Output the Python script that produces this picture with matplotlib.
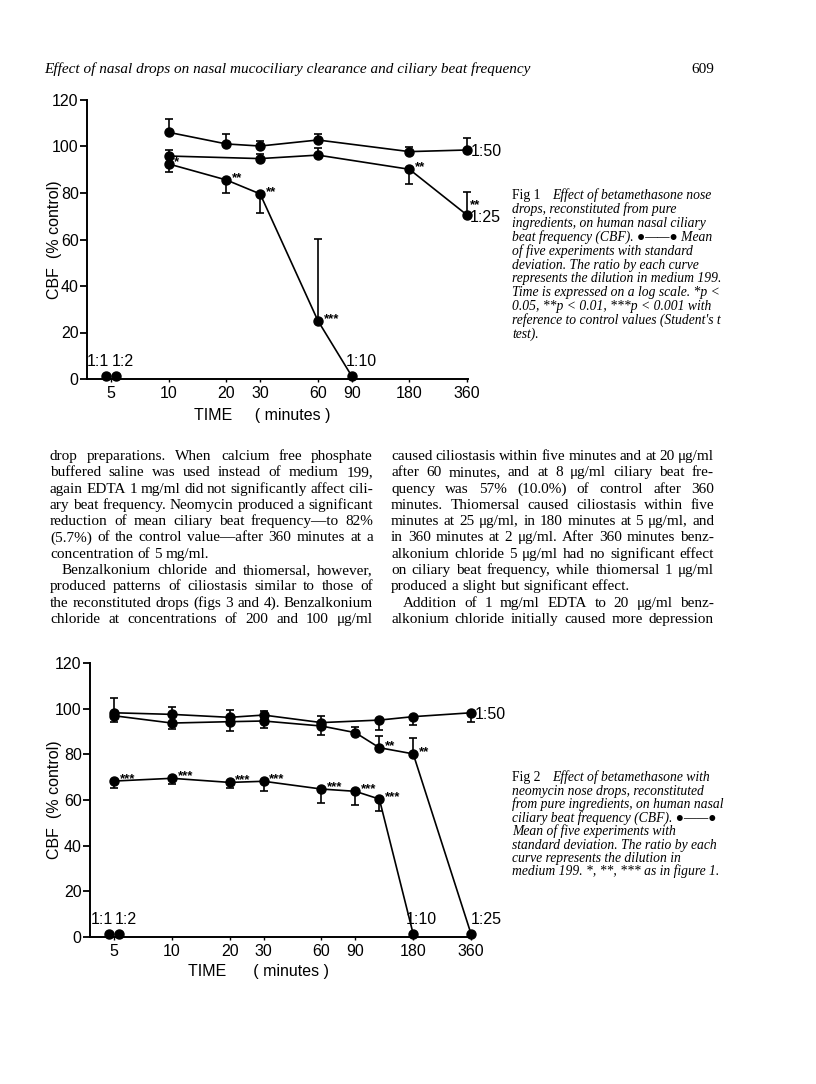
import numpy as np
import matplotlib
matplotlib.use("Agg")
import matplotlib.pyplot as plt
from matplotlib.ticker import FixedLocator, FixedFormatter, NullLocator

W, H = 816, 1084
SANS = ['Liberation Sans', 'DejaVu Sans']
SERIF = ['Liberation Serif', 'DejaVu Serif', 'DejaVu Sans']

# ---- data (time in minutes, CBF in % control)
tick_times = [5, 10, 20, 30, 60, 90, 180, 360]
tick_labels = ['5', '10', '20', '30', '60', '90', '180', '360']

f1_t50 = [10, 20, 30, 60, 180, 360]
f1_y50 = [106.1, 101.1, 100.2, 102.8, 97.8, 98.5]
f1_up50 = [5.6, 4.3, 2.3, 2.4, 2.1, 5.0]
f1_dn50 = [0, 0, 0, 0, 0, 0]

f1_t25 = [10, 30, 60, 180, 360]
f1_y25 = [95.9, 94.8, 96.3, 90.2, 70.5]
f1_up25 = [2.6, 2.0, 2.9, 0, 10.1]
f1_dn25 = [0, 0, 0, 6.5, 0]
f1_s25 = ['', '', '', '**', '']

f1_t10 = [10, 20, 30, 60, 90]
f1_y10 = [92.5, 85.6, 79.6, 25.1, 1.3]
f1_up10 = [0, 0, 0, 35.0, 0]
f1_dn10 = [3.3, 5.7, 8.1, 0, 0]
f1_s10 = ['*', '**', '**', '***', '']

f2_t50 = [5, 10, 20, 30, 60, 120, 180, 360]
f2_y50 = [98.2, 97.5, 96.2, 97.2, 93.9, 95.0, 96.5, 98.2]
f2_up50 = [6.3, 3.4, 3.2, 1.9, 3.0, 0, 0, 0]
f2_dn50 = [0, 0, 0, 0, 0, 4.3, 3.6, 3.9]

f2_t25 = [5, 10, 20, 30, 60, 90, 120, 180, 360]
f2_y25 = [96.9, 93.7, 94.3, 94.6, 92.4, 89.5, 82.9, 80.2, 1.3]
f2_up25 = [0, 0, 0, 0, 0, 2.6, 5.1, 6.8, 0]
f2_dn25 = [2.9, 2.6, 3.9, 3.2, 3.9, 0, 0, 0, 0]
f2_s25 = ['', '', '', '', '', '', '**', '**', '']

f2_t10 = [5, 10, 20, 30, 60, 90, 120, 180]
f2_y10 = [68.3, 69.5, 67.7, 68.2, 64.8, 63.8, 60.4, 1.3]
f2_up10 = [0, 0, 0, 0, 0, 0, 0, 0]
f2_dn10 = [2.9, 2.5, 2.3, 4.2, 6.0, 6.0, 5.1, 0]
f2_s10 = ['***', '***', '***', '***', '***', '***', '***', '']

zero_t = [4.7, 5.3]
zero_y = [1.3, 1.3]
zero_lab = ['1:1', '1:2']

# ---- page text
header = "Effect of nasal drops on nasal mucociliary clearance and ciliary beat frequency"
page_no = "609"

left_col = [
    "drop preparations. When calcium free phosphate",
    "buffered saline was used instead of medium 199,",
    "again EDTA 1 mg/ml did not significantly affect cili-",
    "ary beat frequency. Neomycin produced a significant",
    "reduction of mean ciliary beat frequency\u2014to 82%",
    "(5.7%) of the control value\u2014after 360 minutes at a",
    "concentration of 5 mg/ml.",
    "Benzalkonium chloride and thiomersal, however,",
    "produced patterns of ciliostasis similar to those of",
    "the reconstituted drops (figs 3 and 4). Benzalkonium",
    "chloride at concentrations of 200 and 100 \u03bcg/ml",
]
right_col = [
    "caused ciliostasis within five minutes and at 20 \u03bcg/ml",
    "after 60 minutes, and at 8 \u03bcg/ml ciliary beat fre-",
    "quency was 57% (10.0%) of control after 360",
    "minutes. Thiomersal caused ciliostasis within five",
    "minutes at 25 \u03bcg/ml, in 180 minutes at 5 \u03bcg/ml, and",
    "in 360 minutes at 2 \u03bcg/ml. After 360 minutes benz-",
    "alkonium chloride 5 \u03bcg/ml had no significant effect",
    "on ciliary beat frequency, while thiomersal 1 \u03bcg/ml",
    "produced a slight but significant effect.",
    "Addition of 1 mg/ml EDTA to 20 \u03bcg/ml benz-",
    "alkonium chloride initially caused more depression",
]
left_ends, left_indent = {6}, {7}
right_ends, right_indent = {8}, {9}

cap1_head = "Fig 1"
cap1 = [
    "Effect of betamethasone nose",
    "drops, reconstituted from pure",
    "ingredients, on human nasal ciliary",
    "beat frequency (CBF). \u25cf\u2014\u2014\u25cf Mean",
    "of five experiments with standard",
    "deviation. The ratio by each curve",
    "represents the dilution in medium 199.",
    "Time is expressed on a log scale. *p <",
    "0.05, **p < 0.01, ***p < 0.001 with",
    "reference to control values (Student's t",
    "test).",
]
cap2_head = "Fig 2"
cap2 = [
    "Effect of betamethasone with",
    "neomycin nose drops, reconstituted",
    "from pure ingredients, on human nasal",
    "ciliary beat frequency (CBF). \u25cf\u2014\u2014\u25cf",
    "Mean of five experiments with",
    "standard deviation. The ratio by each",
    "curve represents the dilution in",
    "medium 199. *, **, *** as in figure 1.",
]

fig = plt.figure(figsize=(W / 100, H / 100), dpi=100)
fig.patch.set_facecolor('white')
renderer = fig.canvas.get_renderer()
FS = 11.5


def fx(x):
    return x / W


def fy(y):
    return 1 - y / H


def stars_at(ax, t, y, s, dx=4, dy=-3):
    ax.annotate(s, (t, y), xytext=(dx, dy), textcoords='offset points',
                fontsize=9.5, fontweight='bold', ha='left', va='bottom', family=SANS)


def series(ax, t, y, up, dn, stars=None):
    ax.errorbar(t, y, yerr=[dn, up], fmt='none', ecolor='k', elinewidth=1.2,
                capsize=3, capthick=1.2, clip_on=False, zorder=2)
    ax.plot(t, y, '-o', color='k', lw=1.2, ms=6.5, clip_on=False, zorder=3)
    if stars:
        for ti, yi, s in zip(t, y, stars):
            if s:
                stars_at(ax, ti, yi, s)


def setup(ax, ylab_x):
    ax.set_xscale('log')
    ax.set_xlim(3.75, 364)
    ax.set_ylim(0, 120)
    ax.xaxis.set_major_locator(FixedLocator(tick_times))
    ax.xaxis.set_major_formatter(FixedFormatter(tick_labels))
    ax.xaxis.set_minor_locator(NullLocator())
    ax.set_yticks([0, 20, 40, 60, 80, 100, 120])
    for s in ('top', 'right'):
        ax.spines[s].set_visible(False)
    for s in ('left', 'bottom'):
        ax.spines[s].set_linewidth(1.4)
    ax.tick_params(axis='y', direction='out', length=5, width=1.3, pad=1, labelsize=FS)
    ax.tick_params(axis='x', direction='out', length=2, width=1.0, pad=3, labelsize=FS)
    for lab in ax.get_xticklabels() + ax.get_yticklabels():
        lab.set_family(SANS)
    ax.set_ylabel('CBF  (% control)', fontsize=FS, family=SANS)
    ax.yaxis.set_label_coords(ylab_x, 0.5)


def label(ax, txt, t, y, dx, dy, ha, va):
    ax.annotate(txt, (t, y), xytext=(dx, dy), textcoords='offset points',
                fontsize=FS, ha=ha, va=va, family=SANS)


# ---- Figure 1
ax1 = fig.add_axes([fx(87), fy(379), (468 - 87) / W, 279 / H])
setup(ax1, -0.066)
series(ax1, f1_t50, f1_y50, f1_up50, f1_dn50)
series(ax1, f1_t25, f1_y25, f1_up25, f1_dn25, f1_s25)
series(ax1, f1_t10, f1_y10, f1_up10, f1_dn10, f1_s10)
ax1.plot(zero_t, zero_y, 'o', color='k', ms=6.5, clip_on=False)
label(ax1, '1:50', f1_t50[-1], f1_y50[-1], 3, -1, 'left', 'center')
label(ax1, '1:25', f1_t25[-1], f1_y25[-1], 2, -2, 'left', 'center')
stars_at(ax1, f1_t25[-1], f1_y25[-1], '**', dx=2, dy=3)
label(ax1, '1:10', f1_t10[-1], f1_y10[-1], 7, 5, 'center', 'bottom')
for ti, yi, lab, dx in zip(zero_t, zero_y, zero_lab, [-6, 5]):
    label(ax1, lab, ti, yi, dx, 5, 'center', 'bottom')
ax1.text(0.46, -0.105, 'TIME     ( minutes )', transform=ax1.transAxes, ha='center',
         va='top', fontsize=FS, family=SANS)

# ---- Figure 2
ax2 = fig.add_axes([fx(90), fy(937), (472 - 90) / W, 274 / H])
setup(ax2, -0.073)
series(ax2, f2_t50, f2_y50, f2_up50, f2_dn50)
series(ax2, f2_t25, f2_y25, f2_up25, f2_dn25, f2_s25)
series(ax2, f2_t10, f2_y10, f2_up10, f2_dn10, f2_s10)
ax2.plot(zero_t, zero_y, 'o', color='k', ms=6.5, clip_on=False)
label(ax2, '1:50', f2_t50[-1], f2_y50[-1], 3, -1, 'left', 'center')
label(ax2, '1:10', f2_t10[-1], f2_y10[-1], 6, 5, 'center', 'bottom')
label(ax2, '1:25', f2_t25[-1], f2_y25[-1], 11, 5, 'center', 'bottom')
for ti, yi, lab, dx in zip(zero_t, zero_y, zero_lab, [-5, 5]):
    label(ax2, lab, ti, yi, dx, 5, 'center', 'bottom')
ax2.text(0.44, -0.1, 'TIME      ( minutes )', transform=ax2.transAxes, ha='center',
         va='top', fontsize=FS, family=SANS)

# ---- page header
fig.text(fx(44), fy(73), header, fontsize=11, style='italic', family=SERIF, va='baseline')
fig.text(fx(714), fy(73), page_no, fontsize=11, family=SERIF, va='baseline', ha='right')


# ---- justified body text
def width_of(s, **kw):
    t = fig.text(0, 0, s, **kw)
    w = t.get_window_extent(renderer).width
    t.remove()
    return w


def body(lines, x0, x1, y0, dy, ends, indents, **kw):
    space = width_of('a a', **kw) - width_of('aa', **kw)
    for i, line in enumerate(lines):
        words = line.split()
        ts = [fig.text(0, 0, w, va='baseline', **kw) for w in words]
        ws = [t.get_window_extent(renderer).width for t in ts]
        left = x0 + (12 if i in indents else 0)
        if i in ends or len(words) < 2:
            gap = space
        else:
            gap = (x1 - left - sum(ws)) / (len(words) - 1)
        x = left
        for t, w in zip(ts, ws):
            t.set_position((fx(x), fy(y0 + i * dy)))
            x += w + gap


body(left_col, 50, 373, 460, 16.3, left_ends, left_indent, fontsize=11, family=SERIF)
body(right_col, 391, 714, 460, 16.3, right_ends, right_indent, fontsize=11, family=SERIF)


# ---- captions
def caption(head, lines, x0, xi, y0, dy):
    fig.text(fx(x0), fy(y0), head, fontsize=9.8, family=SERIF, va='baseline')
    for i, line in enumerate(lines):
        fig.text(fx(xi if i == 0 else x0), fy(y0 + i * dy), line, fontsize=9.8,
                 style='italic', family=SERIF, va='baseline')


caption(cap1_head, cap1, 512, 552, 199, 13.9)
caption(cap2_head, cap2, 512, 552, 781, 13.5)

fig.savefig('out.png', dpi=100, facecolor='white')
